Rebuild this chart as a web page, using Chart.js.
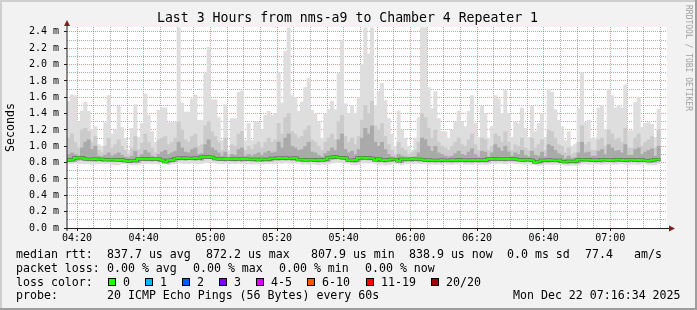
<!DOCTYPE html>
<html>
<head>
<meta charset="utf-8">
<script src="https://cdn.jsdelivr.net/npm/chart.js@4/dist/chart.umd.min.js"></script>
<style>
  html, body { margin: 0; padding: 0; background: #f2f2f2; }
  canvas { display: block; }
</style>
</head>
<body>
<canvas id="smoke" width="697" height="310"></canvas>
<script>
'use strict';

/* ---- time axis (minutes since midnight) ---- */
const START_MIN = 257;   // 04:17
const END_MIN   = 437;   // 07:17
const STEP_MIN  = 1;     // one sample per minute

const xMajorTimes  = [260, 280, 300, 320, 340, 360, 380, 400, 420];
const xMajorLabels = ['04:20', '04:40', '05:00', '05:20', '05:40', '06:00', '06:20', '06:40', '07:00'];
const yTickLabels  = ['0.0 m', '0.2 m', '0.4 m', '0.6 m', '0.8 m', '1.0 m', '1.2 m',
                      '1.4 m', '1.6 m', '1.8 m', '2.0 m', '2.2 m', '2.4 m'];

/* ---- smoke values, milliseconds ---- */
const maxRtt = [
  1.55, 1.63, 1.62, 1.30, 1.43, 1.54, 1.43, 1.20, 1.24, 1.02,
  1.00, 1.29, 1.62, 1.15, 1.20, 1.49, 1.23, 1.10, 0.95, 1.22,
  1.51, 1.11, 1.28, 1.64, 1.38, 1.18, 1.05, 1.44, 1.47, 1.47,
  1.29, 1.30, 1.30, 2.45, 1.53, 1.42, 1.42, 1.58, 1.63, 1.32,
  1.32, 1.90, 2.21, 1.57, 1.57, 1.35, 1.07, 1.51, 0.95, 1.34,
  1.34, 1.66, 1.68, 1.07, 1.28, 1.07, 1.30, 1.30, 1.20, 1.38,
  1.43, 1.38, 1.40, 1.90, 1.53, 2.16, 2.45, 1.62, 1.60, 1.43,
  1.54, 1.72, 1.83, 1.44, 1.40, 1.30, 1.10, 1.40, 1.45, 1.55,
  1.45, 1.89, 2.30, 1.52, 1.40, 1.50, 1.40, 1.60, 2.00, 2.45,
  2.13, 2.45, 1.50, 1.67, 1.77, 1.56, 1.34, 1.15, 1.00, 1.43,
  1.20, 1.10, 1.00, 0.95, 1.10, 1.35, 2.45, 2.45, 1.72, 1.46,
  1.67, 1.34, 1.18, 1.18, 1.10, 1.20, 1.30, 1.43, 1.30, 1.24,
  1.43, 1.62, 1.28, 1.11, 1.49, 1.40, 1.10, 1.24, 1.62, 1.58,
  1.40, 1.69, 1.40, 1.11, 1.30, 1.28, 1.47, 1.22, 1.11, 1.49,
  1.18, 1.28, 1.40, 1.11, 1.70, 1.66, 1.45, 1.32, 1.24, 1.07,
  1.18, 1.00, 1.03, 1.46, 1.90, 1.29, 1.32, 1.10, 1.10, 1.47,
  1.50, 1.20, 1.70, 1.62, 1.47, 1.50, 1.47, 1.75, 1.19, 1.19,
  1.54, 1.60, 1.23, 1.28, 1.29, 1.27, 1.11, 1.45
];

const upperQ = [
  1.10, 1.15, 1.05, 0.98, 1.20, 1.22, 1.18, 1.05, 1.12, 0.95,
  0.92, 1.00, 1.10, 0.98, 1.02, 1.08, 1.00, 0.95, 0.90, 0.98,
  1.12, 0.96, 1.04, 1.15, 1.05, 0.98, 0.92, 1.08, 1.10, 1.12,
  1.02, 1.05, 1.10, 1.30, 1.20, 1.08, 1.05, 1.12, 1.15, 1.00,
  1.02, 1.25, 1.30, 1.18, 1.12, 1.05, 0.95, 1.10, 0.90, 1.02,
  1.00, 1.15, 1.18, 0.95, 1.00, 0.96, 1.02, 1.05, 0.98, 1.05,
  1.10, 1.05, 1.08, 1.28, 1.15, 1.35, 1.40, 1.18, 1.15, 1.10,
  1.12, 1.20, 1.25, 1.08, 1.05, 1.00, 0.95, 1.05, 1.10, 1.15,
  1.08, 1.30, 1.38, 1.12, 1.05, 1.10, 1.02, 1.12, 1.32, 1.50,
  1.40, 1.55, 1.25, 1.20, 1.28, 1.12, 1.02, 0.95, 0.90, 1.05,
  0.98, 0.95, 0.90, 0.92, 0.95, 1.05, 1.40, 1.35, 1.22, 1.10,
  1.20, 1.05, 1.00, 0.98, 0.95, 1.00, 1.05, 1.10, 1.02, 1.00,
  1.08, 1.15, 1.02, 0.95, 1.10, 1.08, 0.95, 1.00, 1.15, 1.12,
  1.05, 1.18, 1.05, 0.95, 1.02, 1.00, 1.10, 0.98, 0.95, 1.10,
  0.98, 1.02, 1.08, 0.95, 1.20, 1.18, 1.10, 1.02, 1.00, 0.92,
  0.98, 0.90, 0.92, 1.05, 1.25, 1.02, 1.05, 0.95, 0.95, 1.08,
  1.10, 1.00, 1.20, 1.15, 1.08, 1.10, 1.05, 1.22, 0.98, 0.98,
  1.10, 1.15, 1.00, 1.05, 1.08, 1.12, 0.98, 1.20
];

const innerQ = [
  0.90, 0.92, 0.90, 0.88, 0.98, 1.05, 1.08, 0.96, 1.00, 0.88,
  0.87, 0.89, 0.92, 0.88, 0.90, 0.92, 0.89, 0.87, 0.86, 0.88,
  0.94, 0.87, 0.90, 0.95, 0.92, 0.88, 0.86, 0.90, 0.93, 0.95,
  0.90, 0.92, 0.94, 1.05, 0.98, 0.93, 0.92, 0.96, 0.98, 0.90,
  0.91, 1.02, 1.08, 0.98, 0.95, 0.92, 0.88, 0.93, 0.86, 0.90,
  0.89, 0.96, 0.98, 0.88, 0.90, 0.88, 0.90, 0.92, 0.89, 0.92,
  0.94, 0.92, 0.93, 1.05, 0.98, 1.10, 1.15, 1.00, 0.98, 0.95,
  0.96, 1.00, 1.05, 0.93, 0.92, 0.89, 0.87, 0.91, 0.94, 0.98,
  0.95, 1.08, 1.15, 0.96, 0.92, 0.94, 0.90, 0.96, 1.10, 1.22,
  1.15, 1.25, 1.05, 1.00, 1.05, 0.96, 0.90, 0.87, 0.86, 0.90,
  0.88, 0.87, 0.86, 0.86, 0.87, 0.92, 1.10, 1.08, 1.00, 0.94,
  1.00, 0.92, 0.90, 0.88, 0.87, 0.88, 0.91, 0.94, 0.90, 0.89,
  0.93, 0.97, 0.90, 0.87, 0.94, 0.93, 0.87, 0.92, 1.02, 0.98,
  0.94, 1.00, 0.93, 0.88, 0.92, 0.90, 0.95, 0.89, 0.87, 0.94,
  0.89, 0.88, 0.93, 0.87, 1.02, 1.00, 0.95, 0.91, 0.89, 0.85,
  0.88, 0.85, 0.86, 0.92, 1.05, 0.92, 0.93, 0.88, 0.88, 0.94,
  0.96, 0.90, 1.02, 0.98, 0.94, 0.95, 0.92, 1.02, 0.89, 0.89,
  0.96, 0.98, 0.90, 0.93, 0.95, 0.97, 0.88, 1.00
];

const medianRtt = [
  0.830, 0.832, 0.835, 0.858, 0.862, 0.860, 0.845, 0.842, 0.840, 0.843,
  0.838, 0.840, 0.836, 0.834, 0.838, 0.835, 0.832, 0.836, 0.822, 0.818,
  0.825, 0.822, 0.846, 0.844, 0.848, 0.842, 0.845, 0.840, 0.844, 0.830,
  0.812, 0.828, 0.832, 0.852, 0.856, 0.850, 0.858, 0.855, 0.852, 0.856,
  0.850, 0.868, 0.872, 0.870, 0.866, 0.848, 0.845, 0.842, 0.846, 0.844,
  0.842, 0.845, 0.840, 0.843, 0.845, 0.841, 0.838, 0.842, 0.836, 0.840,
  0.838, 0.842, 0.855, 0.852, 0.858, 0.854, 0.856, 0.850, 0.853, 0.856,
  0.835, 0.838, 0.832, 0.836, 0.834, 0.830, 0.836, 0.833, 0.838, 0.862,
  0.866, 0.872, 0.864, 0.860, 0.858, 0.830, 0.828, 0.832, 0.858, 0.862,
  0.856, 0.860, 0.855, 0.832, 0.845, 0.828, 0.832, 0.835, 0.842, 0.838,
  0.820, 0.840, 0.842, 0.838, 0.845, 0.840, 0.842, 0.838, 0.830, 0.832,
  0.828, 0.830, 0.826, 0.832, 0.830, 0.828, 0.832, 0.830, 0.834, 0.829,
  0.831, 0.828, 0.832, 0.830, 0.833, 0.829, 0.831, 0.846, 0.844, 0.848,
  0.845, 0.842, 0.846, 0.844, 0.848, 0.843, 0.835, 0.832, 0.836, 0.834,
  0.830, 0.808, 0.815, 0.830, 0.828, 0.832, 0.830, 0.826, 0.828, 0.815,
  0.812, 0.816, 0.814, 0.818, 0.835, 0.838, 0.834, 0.836, 0.830, 0.832,
  0.828, 0.834, 0.836, 0.832, 0.830, 0.834, 0.838, 0.832, 0.830, 0.836,
  0.834, 0.830, 0.832, 0.835, 0.826, 0.824, 0.828, 0.839
];

const lowerQ = [
  0.812, 0.812, 0.815, 0.830, 0.835, 0.832, 0.822, 0.820, 0.818, 0.822,
  0.818, 0.820, 0.815, 0.812, 0.815, 0.812, 0.810, 0.815, 0.802, 0.800,
  0.805, 0.802, 0.825, 0.822, 0.826, 0.820, 0.824, 0.818, 0.822, 0.810,
  0.795, 0.808, 0.812, 0.832, 0.835, 0.830, 0.836, 0.834, 0.830, 0.835,
  0.830, 0.848, 0.850, 0.848, 0.845, 0.826, 0.824, 0.820, 0.825, 0.822,
  0.820, 0.824, 0.818, 0.822, 0.824, 0.820, 0.816, 0.820, 0.814, 0.818,
  0.816, 0.820, 0.832, 0.830, 0.835, 0.832, 0.834, 0.828, 0.830, 0.834,
  0.812, 0.815, 0.810, 0.814, 0.812, 0.808, 0.814, 0.810, 0.815, 0.840,
  0.845, 0.850, 0.842, 0.838, 0.836, 0.808, 0.805, 0.810, 0.835, 0.840,
  0.834, 0.838, 0.832, 0.810, 0.822, 0.805, 0.810, 0.812, 0.820, 0.816,
  0.800, 0.818, 0.820, 0.816, 0.822, 0.818, 0.820, 0.816, 0.808, 0.810,
  0.806, 0.808, 0.804, 0.810, 0.808, 0.806, 0.810, 0.808, 0.812, 0.806,
  0.808, 0.805, 0.810, 0.806, 0.810, 0.806, 0.808, 0.825, 0.822, 0.826,
  0.824, 0.820, 0.825, 0.822, 0.826, 0.820, 0.812, 0.810, 0.814, 0.812,
  0.808, 0.790, 0.795, 0.808, 0.806, 0.810, 0.808, 0.804, 0.806, 0.795,
  0.792, 0.795, 0.792, 0.796, 0.812, 0.815, 0.812, 0.814, 0.808, 0.810,
  0.806, 0.812, 0.814, 0.810, 0.808, 0.812, 0.816, 0.810, 0.808, 0.814,
  0.812, 0.808, 0.810, 0.812, 0.804, 0.802, 0.806, 0.816
];

const minRtt = [
  0.790, 0.788, 0.792, 0.785, 0.790, 0.786, 0.788, 0.780, 0.782, 0.785,
  0.790, 0.786, 0.788, 0.775, 0.770, 0.772, 0.785, 0.788, 0.780, 0.775,
  0.772, 0.780, 0.788, 0.786, 0.790, 0.785, 0.788, 0.782, 0.786, 0.790,
  0.775, 0.785, 0.788, 0.795, 0.792, 0.790, 0.788, 0.792, 0.790, 0.786,
  0.790, 0.800, 0.802, 0.798, 0.795, 0.788, 0.785, 0.790, 0.786, 0.788,
  0.785, 0.790, 0.788, 0.782, 0.786, 0.780, 0.784, 0.786, 0.782, 0.785,
  0.788, 0.790, 0.786, 0.795, 0.792, 0.798, 0.795, 0.790, 0.792, 0.795,
  0.780, 0.785, 0.778, 0.782, 0.780, 0.776, 0.782, 0.778, 0.785, 0.795,
  0.798, 0.800, 0.796, 0.792, 0.790, 0.775, 0.770, 0.778, 0.795, 0.798,
  0.792, 0.796, 0.790, 0.772, 0.780, 0.768, 0.775, 0.782, 0.786, 0.784,
  0.775, 0.785, 0.788, 0.784, 0.790, 0.786, 0.788, 0.785, 0.778, 0.780,
  0.776, 0.780, 0.775, 0.782, 0.780, 0.778, 0.782, 0.780, 0.784, 0.778,
  0.780, 0.776, 0.782, 0.778, 0.780, 0.777, 0.781, 0.790, 0.788, 0.792,
  0.790, 0.786, 0.790, 0.792, 0.788, 0.790, 0.782, 0.780, 0.784, 0.780,
  0.775, 0.765, 0.770, 0.778, 0.780, 0.776, 0.780, 0.778, 0.772, 0.768,
  0.765, 0.768, 0.766, 0.770, 0.782, 0.785, 0.780, 0.782, 0.780, 0.782,
  0.778, 0.780, 0.784, 0.780, 0.778, 0.782, 0.786, 0.780, 0.778, 0.782,
  0.780, 0.778, 0.782, 0.784, 0.775, 0.772, 0.776, 0.785
];

/* ---- legend text ---- */
const rttStats   = [['median rtt:', 16], ['837.7 us avg', 107], ['872.2 us max', 206], ['807.9 us min', 311],
                    ['838.9 us now', 409], ['0.0 ms sd', 507], ['77.4', 585], ['am/s', 634]];
const lossStats  = [['packet loss:', 16], ['0.00 % avg', 107], ['0.00 % max', 193], ['0.00 % min', 279], ['0.00 % now', 365]];
const lossBins   = ['0', '1', '2', '3', '4-5', '6-10', '11-19', '20/20'];
const lossColors = ['#26ff00', '#00b8ff', '#0059ff', '#7e00ff', '#dd00ff', '#ff5500', '#ff0000', '#a10000'];
const lossBoxX   = [108, 145, 182, 219, 256, 307, 366, 431];
const probeText  = [['probe:', 16], ['20 ICMP Echo Pings (56 Bytes) every 60s', 107], ['Mon Dec 22 07:16:34 2025', 513]];

const TITLE = 'Last 3 Hours from nms-a9 to Chamber 4 Repeater 1';
const MONO  = "'DejaVu Sans Mono', 'Liberation Mono', monospace";

const MAJOR_GRID = 'rgba(222, 79, 79, 0.6)';
const MINOR_GRID = 'rgba(143, 143, 143, 0.75)';

/* sample start times */
const times = maxRtt.map((_, i) => START_MIN + i * STEP_MIN);

function band(lo, hi, color, order) {
  return {
    type: 'bar',
    data: times.map((t, i) => ({ x: t + STEP_MIN / 2, y: [lo[i], hi[i]] })),
    backgroundColor: color,
    borderWidth: 0,
    barPercentage: 1,
    categoryPercentage: 1,
    grouped: false,
    order: order,
  };
}

// median as a step line: each value held for its minute
const medianPoints = times.map((t, i) => ({ x: t, y: medianRtt[i] }));
medianPoints.push({ x: times[times.length - 1] + STEP_MIN, y: medianRtt[medianRtt.length - 1] });

function medianLine(color, width, order) {
  return {
    type: 'line',
    data: medianPoints,
    borderColor: color,
    borderWidth: width,
    stepped: 'after',
    pointRadius: 0,
    fill: false,
    order: order,
  };
}

/* ---- frame, title, axes, legend ---- */
const rrdDecor = {
  id: 'rrdDecor',
  beforeDraw(chart) {
    const { ctx, width, height, chartArea: a } = chart;
    ctx.save();
    ctx.fillStyle = '#f2f2f2';
    ctx.fillRect(0, 0, width, height);
    ctx.fillStyle = '#cfcfcf';
    ctx.fillRect(0, 0, width, 2);
    ctx.fillRect(0, 0, 2, height);
    ctx.fillStyle = '#9e9e9e';
    ctx.fillRect(0, height - 2, width, 2);
    ctx.fillRect(width - 2, 0, 2, height);
    ctx.fillStyle = '#ffffff';
    ctx.fillRect(a.left, a.top, a.right - a.left, a.bottom - a.top);
    ctx.restore();
  },
  afterDraw(chart) {
    const { ctx, chartArea: a } = chart;
    ctx.save();

    // axes
    ctx.strokeStyle = '#1f1f1f';
    ctx.lineWidth = 1;
    ctx.beginPath();
    ctx.moveTo(a.left, a.bottom + 3);
    ctx.lineTo(a.left, a.top - 4);
    ctx.stroke();
    ctx.beginPath();
    ctx.moveTo(a.left - 3, a.bottom + 0.5);
    ctx.lineTo(a.right + 4, a.bottom + 0.5);
    ctx.stroke();

    // arrows
    ctx.fillStyle = '#801f1f';
    ctx.beginPath();
    ctx.moveTo(a.left - 3, a.top - 1);
    ctx.lineTo(a.left + 3, a.top - 1);
    ctx.lineTo(a.left, a.top - 7);
    ctx.closePath();
    ctx.fill();
    ctx.beginPath();
    ctx.moveTo(a.right + 2, a.bottom - 2.5);
    ctx.lineTo(a.right + 2, a.bottom + 3.5);
    ctx.lineTo(a.right + 8, a.bottom + 0.5);
    ctx.closePath();
    ctx.fill();

    // title
    ctx.fillStyle = '#000';
    ctx.font = '13.2px ' + MONO;
    ctx.textAlign = 'center';
    ctx.textBaseline = 'middle';
    ctx.fillText(TITLE, 347.5, 19);

    // side watermark
    ctx.save();
    ctx.translate(688.5, 5);
    ctx.rotate(Math.PI / 2);
    ctx.font = '8px ' + MONO;
    ctx.fillStyle = '#a0a0a0';
    ctx.textAlign = 'left';
    ctx.fillText('RRDTOOL / TOBI OETIKER', 0, 0);
    ctx.restore();

    // legend
    ctx.font = '11.6px ' + MONO;
    ctx.textAlign = 'left';
    ctx.fillStyle = '#000';
    rttStats.forEach(([s, x]) => ctx.fillText(s, x, 254.5));
    lossStats.forEach(([s, x]) => ctx.fillText(s, x, 268.5));
    ctx.fillText('loss color:', 16, 282.5);
    lossBins.forEach((lbl, i) => {
      const bx = lossBoxX[i];
      ctx.fillStyle = lossColors[i];
      ctx.fillRect(bx, 278, 8, 8);
      ctx.strokeStyle = '#000';
      ctx.strokeRect(bx + 0.5, 278.5, 7, 7);
      ctx.fillStyle = '#000';
      ctx.fillText(lbl, bx + 15, 282.5);
    });
    probeText.forEach(([s, x]) => ctx.fillText(s, x, 296));

    ctx.restore();
  },
};

new Chart(document.getElementById('smoke'), {
  type: 'bar',
  data: {
    datasets: [
      medianLine('#26ff00', 2, 0),
      medianLine('#555555', 3, 1),
      band(lowerQ, innerQ, '#aaaaaa', 2),
      band(lowerQ, upperQ, '#cbcbcb', 3),
      band(minRtt, maxRtt, '#dedede', 4),
    ],
  },
  options: {
    responsive: false,
    animation: false,
    devicePixelRatio: 1,
    events: [],
    layout: { padding: { left: 0, top: 27, right: 30, bottom: 0 } },
    plugins: {
      legend: { display: false },
      tooltip: { enabled: false },
      title: { display: false },
    },
    scales: {
      x: {
        type: 'linear',
        min: START_MIN,
        max: END_MIN,
        offset: false,
        z: 1,
        afterBuildTicks: (s) => {
          const t = [];
          for (let v = 260; v <= 435; v += 5) t.push({ value: v });
          s.ticks = t;
        },
        afterFit: (s) => { s.height = 82; },
        grid: {
          offset: false,
          lineWidth: 1,
          color: (c) => xMajorTimes.includes(c.tick.value) ? MAJOR_GRID : MINOR_GRID,
          drawTicks: true,
          tickLength: 3,
          tickColor: (c) => xMajorTimes.includes(c.tick.value) ? '#1f1f1f' : 'rgba(0,0,0,0)',
        },
        border: { display: false, dash: [1, 1] },
        ticks: {
          autoSkip: false,
          maxRotation: 0,
          padding: 1,
          color: '#000',
          font: { family: MONO, size: 10 },
          callback: (v) => {
            const k = xMajorTimes.indexOf(v);
            return k >= 0 ? xMajorLabels[k] : '';
          },
        },
      },
      y: {
        type: 'linear',
        min: 0,
        max: 2.46,
        z: 1,
        afterBuildTicks: (s) => {
          const t = [];
          for (let k = 0; k <= 24; k++) t.push({ value: k / 10 });
          s.ticks = t;
        },
        afterFit: (s) => { s.width = 67; },
        grid: {
          lineWidth: 1,
          color: (c) => Math.round(c.tick.value * 10) % 2 === 0 ? MAJOR_GRID : MINOR_GRID,
          drawTicks: true,
          tickLength: 3,
          tickColor: (c) => Math.round(c.tick.value * 10) % 2 === 0 ? '#1f1f1f' : 'rgba(0,0,0,0)',
        },
        border: { display: false, dash: [1, 1] },
        ticks: {
          autoSkip: false,
          padding: 5,
          color: '#000',
          font: { family: MONO, size: 10 },
          callback: (v) => {
            const k = Math.round(v * 10);
            return k % 2 === 0 ? yTickLabels[k / 2] : '';
          },
        },
        title: {
          display: true,
          text: 'Seconds',
          color: '#000',
          font: { family: MONO, size: 11.6 },
          padding: { top: 4, bottom: 4 },
        },
      },
    },
  },
  plugins: [rrdDecor],
});
</script>
</body>
</html>
